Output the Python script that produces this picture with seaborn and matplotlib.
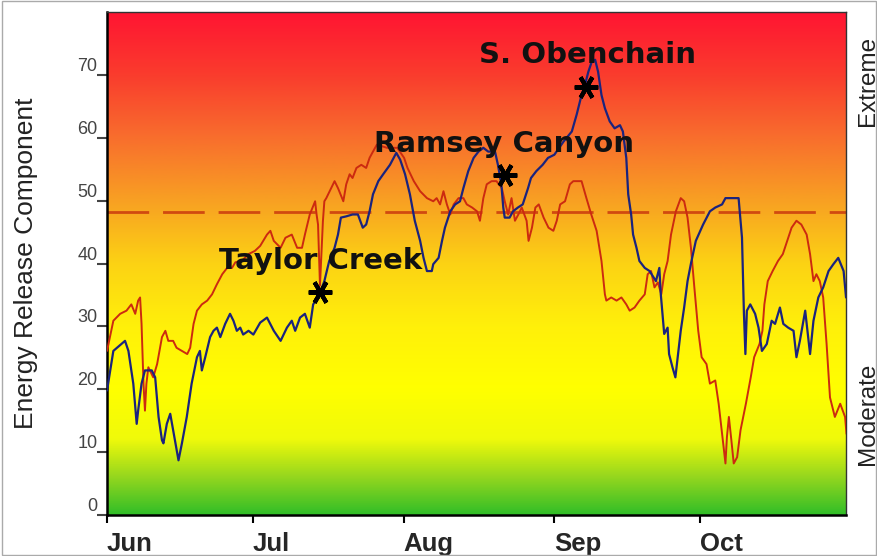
import numpy as np
import pandas as pd
import seaborn as sns
import matplotlib.pyplot as plt
from matplotlib.colors import LinearSegmentedColormap
from matplotlib.patches import Rectangle

# days since Jun 1
blue_day = [0, 1.3, 3.7, 4.4, 5.4, 6.1, 6.4, 7.1, 7.8, 9.2, 9.9, 10.6, 11.3, 11.6, 12.3, 13.0, 13.6,
            14.7, 15.4, 16.4, 17.4, 18.5, 19.1, 19.5, 20.2, 21.2, 21.9, 22.6, 23.3, 24.3, 25.3, 26.0,
            26.7, 27.4, 28.0, 29.1, 30.1, 31.5, 32.9, 34.3, 35.7, 37.0, 38.0, 38.7, 39.7, 40.7, 41.7,
            42.4, 43.4, 43.8, 44.7, 45.7, 46.8, 47.5, 48.1, 49.2, 50.5, 51.6, 52.6, 53.3, 54.0, 54.7,
            55.8, 56.8, 58.2, 59.5, 60.3, 61.3, 62.3, 63.3, 64.4, 65.1, 65.8, 66.8, 67.1, 68.2, 68.9,
            69.5, 70.6, 71.6, 72.6, 73.3, 74.3, 75.4, 76.4, 77.4, 78.4, 79.8, 80.4, 81.1, 81.5, 81.8,
            82.8, 83.5, 84.5, 85.5, 86.6, 87.2, 88.3, 89.6, 90.7, 92.0, 93.9, 95.6, 96.6, 97.6, 98.3,
            99.0, 99.7, 100.4, 101.0, 101.7, 102.4, 103.4, 104.4, 105.5, 106.1, 106.8, 107.2, 107.8,
            108.2, 108.9, 109.5, 110.6, 111.6, 112.9, 113.6, 113.9, 114.6, 115.3, 115.6, 116.3, 116.9,
            117.3, 118.0, 118.7, 119.4, 120.1, 121.1, 122.6, 124.0, 125.1, 126.5, 127.2, 129.9, 130.6,
            131.0, 131.3, 131.6, 132.3, 133.3, 134.0, 134.7, 135.7, 136.7, 137.4, 138.4, 139.1, 140.1,
            141.2, 141.8, 142.5, 143.6, 144.6, 145.3, 146.3, 147.3, 148.4, 149.4, 150.4, 151.5, 152.0]
blue_erc = [19.8, 26.1, 27.7, 26.1, 20.9, 14.5, 16.6, 20.9, 23.0, 23.0, 21.9, 15.6, 11.9, 11.4, 14.5,
            16.1, 13.5, 8.7, 11.4, 15.6, 20.9, 25.1, 26.1, 23.0, 25.1, 28.3, 29.3, 29.8, 28.3, 30.4,
            32.0, 30.9, 29.3, 29.8, 28.7, 29.3, 28.7, 30.6, 31.4, 29.3, 27.7, 29.8, 30.9, 29.3, 31.4,
            32.0, 29.8, 33.5, 34.6, 35.4, 37.2, 40.4, 42.5, 44.6, 47.3, 47.5, 47.8, 47.8, 45.7, 46.2,
            48.3, 51.0, 53.1, 54.2, 55.7, 57.6, 56.5, 54.2, 51.0, 46.8, 43.6, 40.9, 38.8, 38.8, 39.9,
            40.9, 43.6, 45.7, 48.3, 49.4, 49.9, 52.0, 54.7, 56.8, 57.8, 58.4, 57.8, 57.8, 55.7, 52.6,
            48.9, 47.3, 47.3, 48.3, 48.9, 49.4, 52.0, 53.6, 54.7, 55.7, 56.8, 57.3, 59.4, 61.0, 63.7,
            66.8, 68.4, 70.5, 72.1, 72.4, 70.5, 66.8, 64.7, 62.6, 61.5, 62.0, 61.0, 56.8, 51.0, 47.8,
            44.6, 42.5, 40.4, 39.3, 38.8, 37.2, 39.3, 35.1, 28.8, 29.8, 25.6, 23.5, 21.9, 24.6, 29.3,
            33.0, 37.2, 40.0, 43.6, 46.2, 48.3, 48.9, 49.4, 50.4, 50.4, 44.1, 32.0, 25.6, 32.5, 33.5,
            32.0, 29.8, 26.1, 27.2, 30.9, 30.4, 33.0, 30.4, 29.8, 29.3, 25.1, 27.7, 32.5, 25.6, 30.9,
            34.6, 36.2, 38.8, 39.9, 40.9, 38.8, 34.6]

red_day = [0, 1.3, 2.7, 4.0, 5.0, 5.8, 6.4, 6.8, 7.1, 7.5, 7.8, 8.1, 8.5, 9.5, 10.3, 11.3, 12.0, 12.6,
           13.6, 14.3, 15.4, 16.5, 17.1, 17.8, 18.5, 19.5, 20.6, 21.6, 22.6, 23.7, 24.7, 25.7, 26.4,
           27.7, 29.1, 30.4, 31.5, 32.9, 33.6, 34.3, 35.7, 36.7, 38.0, 39.1, 40.1, 40.7, 41.7, 42.8,
           43.1, 43.4, 43.8, 44.4, 44.7, 45.1, 46.1, 46.8, 47.5, 48.6, 49.2, 49.9, 50.5, 51.3, 52.3,
           53.3, 54.0, 54.7, 55.5, 57.6, 59.7, 61.1, 61.8, 63.1, 64.4, 65.8, 67.1, 67.8, 68.5, 69.2,
           69.9, 70.6, 71.3, 72.3, 73.3, 74.0, 75.1, 76.1, 76.7, 77.4, 78.1, 79.1, 80.1, 81.2, 81.8,
           82.5, 83.2, 83.9, 84.6, 85.3, 86.3, 86.7, 87.4, 88.1, 88.8, 89.8, 90.8, 91.8, 92.5, 93.2,
           94.2, 95.2, 95.9, 97.6, 98.6, 99.6, 100.7, 101.7, 102.4, 102.7, 103.7, 104.8, 105.8, 106.8,
           107.5, 108.5, 109.5, 110.6, 111.2, 111.9, 112.6, 113.3, 114.0, 114.6, 115.3, 116.0, 117.0,
           118.0, 118.7, 119.4, 120.1, 120.8, 121.6, 122.3, 123.3, 124.0, 125.1, 125.8, 126.5, 127.2,
           127.5, 127.9, 128.4, 128.9, 129.6, 130.3, 131.4, 132.4, 133.1, 134.2, 134.8, 135.2, 135.9,
           136.9, 138.0, 139.0, 140.1, 140.8, 141.8, 142.8, 143.9, 144.6, 145.3, 145.9, 146.6, 147.3,
           148.0, 148.7, 149.7, 150.8, 151.8, 152.1]
red_erc = [26.1, 30.9, 32.0, 32.5, 33.5, 32.0, 34.1, 34.6, 30.4, 20.9, 16.6, 20.9, 23.5, 21.9, 24.0,
           28.3, 29.3, 27.7, 27.7, 26.6, 26.1, 25.6, 26.6, 30.4, 32.5, 33.5, 34.1, 35.1, 36.7, 38.3,
           39.3, 39.3, 40.2, 40.4, 41.5, 42.0, 42.8, 44.6, 45.2, 43.6, 42.5, 44.1, 44.6, 42.5, 42.5,
           44.6, 47.8, 49.9, 47.8, 46.2, 36.5, 46.7, 49.9, 50.4, 52.0, 53.1, 52.0, 49.9, 52.6, 54.2,
           53.6, 55.2, 55.7, 55.2, 56.8, 57.8, 58.9, 58.4, 58.4, 56.8, 55.2, 53.1, 51.5, 50.4, 49.9,
           50.4, 49.4, 51.5, 49.4, 47.8, 49.4, 50.4, 50.4, 49.4, 48.9, 48.3, 46.8, 50.4, 52.6, 53.1,
           53.1, 52.0, 49.9, 47.8, 50.4, 46.8, 47.8, 48.9, 46.8, 43.6, 45.7, 48.9, 49.4, 47.3, 45.7,
           45.2, 46.8, 49.4, 49.9, 52.6, 53.1, 53.1, 50.4, 47.8, 45.2, 40.4, 35.1, 34.1, 34.6, 34.1,
           34.6, 33.5, 32.5, 33.0, 34.1, 35.1, 38.3, 38.8, 36.2, 37.0, 35.1, 38.3, 40.4, 44.6, 48.3,
           50.4, 49.9, 47.3, 42.5, 36.2, 29.3, 25.1, 24.0, 20.9, 21.4, 17.7, 12.9, 8.2, 12.4, 15.6,
           12.0, 8.2, 9.2, 13.5, 17.7, 21.9, 25.1, 27.2, 29.3, 33.5, 37.2, 38.8, 40.4, 41.5, 44.1,
           45.7, 46.8, 46.2, 44.6, 41.5, 37.2, 38.3, 37.2, 34.6, 27.2, 18.7, 15.6, 17.7, 15.6, 12.9]

fire_names = ['Taylor Creek', 'Ramsey Canyon', 'S. Obenchain']
fire_day = [43.8, 81.9, 98.6]
fire_erc = [35.4, 54.0, 68.0]
label_day = [44.0, 81.7, 98.8]
label_erc = [40.4, 59.0, 73.2]

extreme_line = 48.2
month_day = [0, 30, 61, 92, 122]
month_names = ['Jun', 'Jul', 'Aug', 'Sep', 'Oct']

sns.set_style('ticks')
plt.rcParams['font.family'] = ['Liberation Sans', 'DejaVu Sans']

fig = plt.figure(figsize=(8.78, 5.56), dpi=100)
ax = fig.add_axes([0.1219, 0.0737, 0.8417, 0.9047])

# background gradient red -> yellow -> green
stops = [(0.0, '#32be28'), (0.075, '#96d71e'), (0.15, '#f0fa0a'), (0.25, '#ffff00'),
         (0.375, '#fff00a'), (0.5, '#fcd214'), (0.625, '#f8a023'), (0.75, '#f86e2d'),
         (0.875, '#fa3c2d'), (1.0, '#ff1432')]
cmap = LinearSegmentedColormap.from_list('erc', stops)
grad = np.linspace(0, 1, 256).reshape(-1, 1)
ax.imshow(grad, extent=[0, 152, 0, 80], aspect='auto', cmap=cmap, origin='lower', zorder=0)

ax.axhline(extreme_line, color='#d04a10', lw=2, dashes=(15, 5), zorder=2)

df_red = pd.DataFrame({'day': red_day, 'erc': red_erc})
df_blue = pd.DataFrame({'day': blue_day, 'erc': blue_erc})
sns.lineplot(data=df_red, x='day', y='erc', ax=ax, color='#cc2a10', lw=1.4, estimator=None, zorder=3)
sns.lineplot(data=df_blue, x='day', y='erc', ax=ax, color='#1a237e', lw=1.6, estimator=None, zorder=4)

ax.plot(fire_day, fire_erc, ls='none', marker=(6, 2, 90), ms=17, mew=3, color='black', zorder=5)
for name, d, v in zip(fire_names, label_day, label_erc):
    ax.text(d, v, name, fontsize=21, fontweight='bold', family='DejaVu Sans',
            ha='center', va='center', color='#111111', zorder=6)

ax.set_xlim(0, 152)
ax.set_ylim(0, 80)
ax.set_xticks(month_day)
ax.set_xticklabels(month_names, fontsize=18.5, fontweight='bold', ha='left')
ax.set_yticks(range(0, 80, 10))
ax.set_yticklabels([str(v) for v in range(0, 80, 10)], fontsize=13, color='#444444', va='bottom')
ax.tick_params(axis='y', length=7, width=1.5, pad=0, color='#444444')
ax.tick_params(axis='x', length=6, width=1.5, pad=6, color='black')
ax.set_xlabel(None)
ax.set_ylabel('Energy Release Component', fontsize=19, color='#222222', labelpad=28)

for side in ['left', 'bottom']:
    ax.spines[side].set_linewidth(1.8)
    ax.spines[side].set_color('black')
for side in ['top', 'right']:
    ax.spines[side].set_linewidth(1.0)
    ax.spines[side].set_color('#333333')

fig.text(0.9885, 0.855, 'Extreme', rotation=90, fontsize=17.5, color='#222222', ha='center', va='center')
fig.text(0.9885, 0.255, 'Moderate', rotation=90, fontsize=17.5, color='#222222', ha='center', va='center')

fig.patches.append(Rectangle((0.002, 0.002), 0.996, 0.996, transform=fig.transFigure,
                             fill=False, edgecolor='#aaaaaa', lw=1))

plt.savefig('out.png', dpi=100)
